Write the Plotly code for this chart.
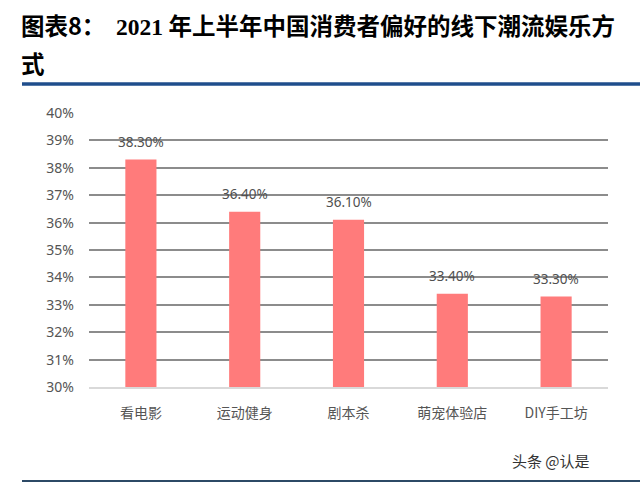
import plotly.graph_objects as go

categories = ["看电影", "运动健身", "剧本杀", "萌宠体验店", "DIY手工坊"]
values = [0.383, 0.364, 0.361, 0.334, 0.333]
value_labels = ["38.30%", "36.40%", "36.10%", "33.40%", "33.30%"]

W, H = 640, 482
L, R, T, B = 89, 32, 113, 95
pw, ph = W - L - R, H - T - B

def px(x):
    return (x - L) / pw

def py(y):
    return (H - B - y) / ph

fig = go.Figure()
fig.add_trace(go.Bar(
    x=categories, y=values, width=0.3,
    marker=dict(color="#FF7B7B", line=dict(width=0)),
    hoverinfo="skip",
))

annotations = []
for c, v, t in zip(categories, values, value_labels):
    annotations.append(dict(x=c, y=v, xref="x", yref="y", text=t, showarrow=False,
                            yanchor="bottom", yshift=7,
                            font=dict(size=13.5, color="#505050", family="Noto Sans")))

title_font = "Noto Sans CJK SC"
annotations.append(dict(
    x=px(19), y=py(25), xref="paper", yref="paper", xanchor="left", yanchor="middle",
    showarrow=False,
    text="<b>图表8：  <span style=\"font-family:'Liberation Serif'\">2021</span> 年上半年中国消费者偏好的线下潮流娱乐方</b>",
    font=dict(size=23.5, color="#000000", family=title_font)))
annotations.append(dict(
    x=px(19), y=py(63), xref="paper", yref="paper", xanchor="left", yanchor="middle",
    showarrow=False, text="<b>式</b>",
    font=dict(size=23.5, color="#000000", family=title_font)))
annotations.append(dict(
    x=px(592), y=py(460), xref="paper", yref="paper", xanchor="right", yanchor="middle",
    showarrow=False, text="头条 @认是",
    font=dict(size=15, color="#333333", family="Noto Sans CJK SC")))

shapes = [
    dict(type="line", xref="paper", yref="paper", x0=px(22), x1=px(640), y0=py(84), y1=py(84),
         line=dict(color="#1F4E8C", width=3.5)),
    dict(type="line", xref="paper", yref="paper", x0=px(22), x1=px(640), y0=py(481), y1=py(481),
         line=dict(color="#2C4A66", width=2)),
]

fig.update_layout(
    width=W, height=H,
    margin=dict(l=L, r=R, t=T, b=B),
    paper_bgcolor="#FFFFFF", plot_bgcolor="#FFFFFF",
    showlegend=False,
    annotations=annotations, shapes=shapes,
    xaxis=dict(showline=True, linecolor="#D9D9D9", linewidth=1.5, ticks="",
               ticklabelstandoff=12,
               tickfont=dict(size=14, color="#555555", family="Noto Sans CJK SC"),
               showgrid=False),
    yaxis=dict(range=[0.30, 0.40], dtick=0.01, tickformat=".0%",
               showgrid=True, gridcolor="#8C8C8C", gridwidth=1.5,
               zeroline=False, ticks="", ticklabelstandoff=14,
               tickfont=dict(size=14, color="#555555", family="Noto Sans")),
    bargap=0.7,
)

fig.write_html("out.html")
